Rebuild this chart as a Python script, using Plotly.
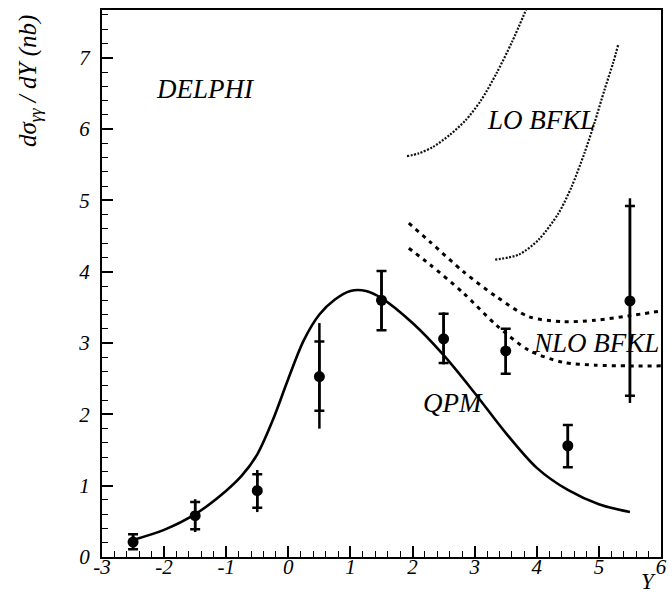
import plotly.graph_objects as go

# ---- data ----
y_pts = [-2.5, -1.5, -0.5, 0.5, 1.5, 2.5, 3.5, 4.5, 5.5]
sigma = [0.21, 0.58, 0.93, 2.53, 3.60, 3.06, 2.89, 1.56, 3.59]
stat_up = [0.11, 0.19, 0.23, 0.49, 0.41, 0.35, 0.31, 0.29, 1.33]
stat_dn = [0.10, 0.19, 0.24, 0.48, 0.42, 0.34, 0.32, 0.30, 1.33]
tot_up = [0.11, 0.23, 0.29, 0.75, 0.41, 0.37, 0.31, 0.29, 1.44]
tot_dn = [0.10, 0.23, 0.30, 0.73, 0.42, 0.36, 0.32, 0.30, 1.43]

qpm_x = [-2.5, -2, -1.5, -1, -0.75, -0.5, -0.25, 0, 0.25, 0.5, 0.75, 1.0, 1.25,
         1.5, 2, 2.5, 3, 3.5, 4, 4.5, 5, 5.5]
qpm_y = [0.24, 0.38, 0.60, 0.93, 1.14, 1.44, 1.92, 2.50, 3.04, 3.40, 3.61, 3.73,
         3.73, 3.63, 3.28, 2.83, 2.30, 1.74, 1.25, 0.94, 0.74, 0.63]

lo1_x = [1.91, 2.10, 2.33, 2.60, 2.85, 3.10, 3.35, 3.60, 3.85]
lo1_y = [5.62, 5.66, 5.75, 5.92, 6.12, 6.40, 6.78, 7.22, 7.72]
lo2_x = [3.33, 3.71, 4.03, 4.35, 4.56, 4.77, 4.93, 5.09, 5.23, 5.31]
lo2_y = [4.17, 4.24, 4.45, 4.82, 5.19, 5.67, 6.09, 6.55, 6.93, 7.18]

nlo_x = [1.94, 2.28, 2.82, 3.35, 3.87, 4.42, 4.94, 5.47, 6.0]
nlo_up = [4.68, 4.42, 4.00, 3.65, 3.37, 3.30, 3.32, 3.38, 3.45]
nlo_dn = [4.33, 4.10, 3.70, 3.25, 2.90, 2.73, 2.69, 2.68, 2.68]

x_tickvals = [-3, -2, -1, 0, 1, 2, 3, 4, 5, 6]
x_ticktext = ["-3", "-2", "-1", "0", "1", "2", "3", "4", "5", "6"]
y_tickvals = [0, 1, 2, 3, 4, 5, 6, 7]
y_ticktext = ["0", "1", "2", "3", "4", "5", "6", "7"]

serif = "Liberation Serif, Times New Roman, serif"

fig = go.Figure()

# theory curves
fig.add_trace(go.Scatter(x=qpm_x, y=qpm_y, mode="lines",
                         line=dict(color="black", width=2.6, shape="spline", smoothing=0.9)))
for xs, ys in [(lo1_x, lo1_y), (lo2_x, lo2_y)]:
    fig.add_trace(go.Scatter(x=xs, y=ys, mode="lines",
                             line=dict(color="#111", width=2.2, dash="2px,1.5px",
                                       shape="spline", smoothing=0.8)))
for ys in [nlo_up, nlo_dn]:
    fig.add_trace(go.Scatter(x=nlo_x, y=ys, mode="lines",
                             line=dict(color="black", width=3, dash="4px,5px",
                                       shape="spline", smoothing=0.8)))

# total errors (no caps)
fig.add_trace(go.Scatter(x=y_pts, y=sigma, mode="markers",
                         marker=dict(size=1, color="black"),
                         error_y=dict(type="data", symmetric=False, array=tot_up, arrayminus=tot_dn,
                                      color="black", thickness=2.5, width=0)))
# stat errors (with caps) + markers
fig.add_trace(go.Scatter(x=y_pts, y=sigma, mode="markers",
                         marker=dict(size=11, color="black"),
                         error_y=dict(type="data", symmetric=False, array=stat_up, arrayminus=stat_dn,
                                      color="black", thickness=2.5, width=5)))

ann_font = dict(family=serif, size=27, color="black", style="italic")
fig.add_annotation(x=-1.33, y=6.56, text="DELPHI", showarrow=False, font=ann_font)
fig.add_annotation(x=4.07, y=6.13, text="LO BFKL", showarrow=False, font=ann_font)
fig.add_annotation(x=4.96, y=3.0, text="NLO BFKL", showarrow=False, font=ann_font)
fig.add_annotation(x=2.65, y=2.16, text="QPM", showarrow=False, font=ann_font)

fig.add_annotation(xref="paper", yref="paper", x=-0.13, y=0.995, textangle=-90,
                   xanchor="center", yanchor="top",
                   text="dσ<sub>γγ</sub> / dY (nb)", showarrow=False,
                   font=dict(family=serif, size=25, color="black", style="italic"))
fig.add_annotation(xref="paper", yref="paper", x=0.978, y=-0.072, text="Y",
                   showarrow=False, xanchor="center", yanchor="bottom",
                   font=dict(family=serif, size=23, color="black", style="italic"))

axis_common = dict(showgrid=False, zeroline=False, showline=True, linecolor="black",
                   linewidth=2, mirror=True, ticks="inside", tickcolor="black",
                   tickwidth=1.5,
                   tickfont=dict(family=serif, size=21, color="black", style="italic"))

fig.update_xaxes(range=[-3, 6], tickmode="array", tickvals=x_tickvals, ticktext=x_ticktext,
                 ticklen=11, ticklabelstandoff=-10,
                 minor=dict(dtick=0.2, tick0=0, ticks="inside", ticklen=6, tickcolor="black",
                            tickwidth=1.2),
                 **axis_common)
fig.update_yaxes(range=[0, 7.67], tickmode="array", tickvals=y_tickvals, ticktext=y_ticktext,
                 ticklen=11, ticklabelstandoff=6,
                 minor=dict(dtick=0.2, tick0=0, ticks="inside", ticklen=6, tickcolor="black",
                            tickwidth=1.2),
                 **axis_common)

fig.update_layout(width=672, height=597, showlegend=False,
                  margin=dict(l=102, r=5, t=10, b=40),
                  paper_bgcolor="white", plot_bgcolor="white")

fig.write_html("out.html")
